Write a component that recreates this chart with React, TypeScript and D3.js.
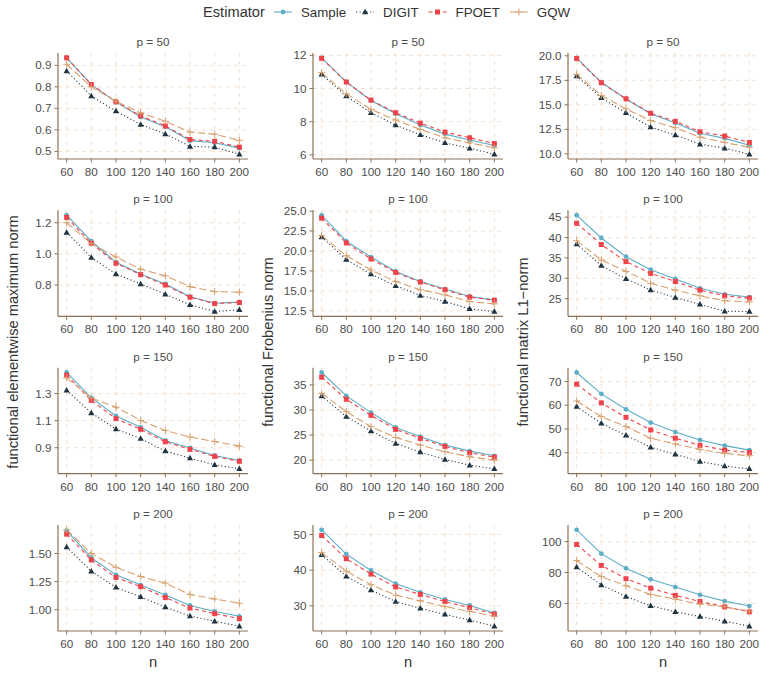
import React from "react";
import * as d3 from "d3";

const width = 765;
const height = 677;

const nValues = [60, 80, 100, 120, 140, 160, 180, 200];
const pValues = [50, 100, 150, 200];
const estimators = ["Sample", "DIGIT", "FPOET", "GQW"];
const metricTitles = [
  "functional elementwise maximum norm",
  "functional Frobenius norm",
  "functional matrix L1\u2212norm",
];

// elementwise maximum norm, one row per p
const maxSample = [
  [0.935, 0.81, 0.73, 0.66, 0.615, 0.55, 0.54, 0.515],
  [1.249, 1.082, 0.946, 0.871, 0.807, 0.725, 0.683, 0.69],
  [1.456, 1.268, 1.135, 1.051, 0.954, 0.898, 0.843, 0.806],
  [1.702, 1.462, 1.31, 1.219, 1.132, 1.038, 0.985, 0.942],
];
const maxDigit = [
  [0.874, 0.757, 0.687, 0.625, 0.581, 0.523, 0.52, 0.487],
  [1.138, 0.976, 0.871, 0.807, 0.741, 0.673, 0.63, 0.641],
  [1.325, 1.157, 1.038, 0.967, 0.875, 0.823, 0.774, 0.744],
  [1.556, 1.342, 1.199, 1.114, 1.023, 0.944, 0.898, 0.854],
];
const maxFpoet = [
  [0.935, 0.811, 0.73, 0.665, 0.618, 0.555, 0.547, 0.52],
  [1.234, 1.069, 0.94, 0.867, 0.8, 0.722, 0.681, 0.688],
  [1.436, 1.25, 1.115, 1.036, 0.944, 0.888, 0.836, 0.8],
  [1.672, 1.442, 1.287, 1.205, 1.108, 1.015, 0.965, 0.921],
];
const maxGqw = [
  [0.905, 0.8, 0.733, 0.679, 0.64, 0.59, 0.58, 0.551],
  [1.2, 1.066, 0.98, 0.902, 0.859, 0.79, 0.758, 0.754],
  [1.416, 1.268, 1.2, 1.102, 1.027, 0.979, 0.946, 0.912],
  [1.71, 1.5, 1.377, 1.295, 1.237, 1.135, 1.096, 1.058],
];

// Frobenius norm
const frobSample = [
  [11.85, 10.4, 9.28, 8.48, 7.8, 7.25, 6.9, 6.56],
  [24.5, 21.23, 19.25, 17.45, 16.19, 15.23, 14.3, 13.88],
  [37.47, 32.8, 29.47, 26.53, 24.67, 23.0, 21.8, 20.87],
  [51.3, 44.5, 39.9, 36.2, 33.8, 31.8, 30.1, 28.0],
];
const frobDigit = [
  [10.85, 9.54, 8.54, 7.79, 7.21, 6.73, 6.4, 6.04],
  [21.77, 18.92, 17.12, 15.65, 14.43, 13.67, 12.75, 12.42],
  [32.8, 28.67, 25.8, 23.33, 21.6, 20.13, 19.0, 18.27],
  [44.3, 38.3, 34.4, 31.2, 29.3, 27.6, 26.0, 24.3],
];
const frobFpoet = [
  [11.82, 10.39, 9.3, 8.54, 7.91, 7.37, 7.03, 6.68],
  [24.12, 21.02, 19.0, 17.32, 16.11, 15.14, 14.22, 13.84],
  [36.53, 32.13, 28.93, 26.13, 24.33, 22.73, 21.47, 20.6],
  [49.7, 43.2, 38.9, 35.3, 33.2, 31.2, 29.5, 27.7],
];
const frobGqw = [
  [10.95, 9.68, 8.74, 8.1, 7.53, 7.03, 6.72, 6.42],
  [21.94, 19.42, 17.62, 16.19, 15.14, 14.51, 13.67, 13.38],
  [33.33, 29.67, 26.67, 24.53, 23.0, 21.67, 20.67, 20.0],
  [44.9, 39.7, 35.9, 33.0, 31.4, 29.8, 28.4, 27.1],
];

// matrix L1-norm
const l1Sample = [
  [19.8, 17.3, 15.6, 14.1, 13.15, 12.1, 11.58, 10.89],
  [45.5, 39.9, 35.3, 32.1, 29.85, 27.55, 26.07, 25.4],
  [73.8, 64.8, 58.3, 52.7, 48.7, 45.35, 43.0, 41.1],
  [107.6, 92.2, 82.7, 75.6, 70.6, 65.6, 61.5, 58.3],
];
const l1Digit = [
  [17.95, 15.72, 14.18, 12.74, 11.92, 10.99, 10.58, 9.97],
  [38.4, 33.1, 29.9, 27.1, 25.3, 23.6, 21.9, 21.85],
  [59.4, 52.4, 47.3, 42.3, 39.3, 36.3, 34.4, 33.2],
  [83.6, 71.9, 64.5, 58.5, 54.6, 51.5, 48.5, 45.3],
];
const l1Fpoet = [
  [19.73, 17.26, 15.62, 14.14, 13.32, 12.26, 11.82, 11.16],
  [43.5, 38.3, 34.1, 31.2, 29.2, 27.1, 25.7, 25.15],
  [68.9, 61.0, 54.9, 49.6, 46.1, 43.1, 41.1, 40.1],
  [98.1, 84.6, 76.0, 69.9, 65.2, 61.3, 57.8, 54.6],
];
const l1Gqw = [
  [18.12, 15.96, 14.59, 13.39, 12.67, 11.71, 11.16, 10.68],
  [39.2, 34.5, 31.7, 28.8, 27.1, 25.7, 24.5, 24.2],
  [61.8, 55.2, 51.0, 46.1, 43.7, 41.4, 39.7, 38.7],
  [87.7, 77.3, 71.5, 65.8, 62.8, 59.6, 57.8, 55.0],
];

const maxTicks = [
  ["0.5", "0.6", "0.7", "0.8", "0.9"],
  ["0.8", "1.0", "1.2"],
  ["0.9", "1.1", "1.3"],
  ["1.00", "1.25", "1.50"],
];
const frobTicks = [
  ["6", "8", "10", "12"],
  ["12.5", "15.0", "17.5", "20.0", "22.5", "25.0"],
  ["20", "25", "30", "35"],
  ["30", "40", "50"],
];
const l1Ticks = [
  ["10.0", "12.5", "15.0", "17.5", "20.0"],
  ["25", "30", "35", "40", "45"],
  ["40", "50", "60", "70"],
  ["60", "80", "100"],
];

const metricSeries = [
  [maxSample, maxDigit, maxFpoet, maxGqw],
  [frobSample, frobDigit, frobFpoet, frobGqw],
  [l1Sample, l1Digit, l1Fpoet, l1Gqw],
];
const metricTicks = [maxTicks, frobTicks, l1Ticks];

const colors = ["#5DAEC6", "#1E3440", "#EE434A", "#D6A06E"];
const dashes = ["none", "1.1,2.4", "4,3.2", "7.5,3.2"];

const font = "'Liberation Sans', Arial, Helvetica, sans-serif";
const axisColor = "#8C7257";
const gridColor = "#F4E0CF";
const textColor = "#4D4D4D";

const colX = [58, 313, 568];
const rowY = [53, 210.33, 367.67, 525];
const panelW = 190;
const panelH = 106;

const Marker = ({ kind, x, y, color }: { kind: number; x: number; y: number; color: string }) => {
  if (kind === 0) return <circle cx={x} cy={y} r={2.4} fill={color} />;
  if (kind === 1)
    return <path d={`M${x},${y - 3.3}L${x + 3.1},${y + 2.2}L${x - 3.1},${y + 2.2}Z`} fill={color} />;
  if (kind === 2) return <rect x={x - 2.5} y={y - 2.5} width={5} height={5} fill={color} />;
  return (
    <path
      d={`M${x - 3.6},${y}H${x + 3.6}M${x},${y - 3.6}V${y + 3.6}`}
      stroke={color}
      strokeWidth={1}
      fill="none"
    />
  );
};

const Panel = ({ m, r }: { m: number; r: number }) => {
  const series = metricSeries[m].map((s) => s[r]);
  const ticks = metricTicks[m][r];
  const [nx0, nx1] = d3.extent(nValues) as [number, number];
  const xpad = (nx1 - nx0) * 0.05;
  const x = d3.scaleLinear().domain([nx0 - xpad, nx1 + xpad]).range([0, panelW]);
  const all = series.flat();
  const [y0, y1] = d3.extent(all) as [number, number];
  const ypad = (y1 - y0) * 0.05;
  const y = d3.scaleLinear().domain([y0 - ypad, y1 + ypad]).range([panelH, 0]);
  const line = d3
    .line<number>()
    .x((_, i) => x(nValues[i]))
    .y((d) => y(d));

  return (
    <g transform={`translate(${colX[m]},${rowY[r]})`}>
      {ticks.map((t) => (
        <line
          key={"gy" + t}
          x1={0}
          x2={panelW}
          y1={y(+t)}
          y2={y(+t)}
          stroke={gridColor}
          strokeWidth={1}
          strokeDasharray="4,4"
        />
      ))}
      {nValues.map((n) => (
        <line
          key={"gx" + n}
          x1={x(n)}
          x2={x(n)}
          y1={0}
          y2={panelH}
          stroke={gridColor}
          strokeWidth={1}
          strokeDasharray="4,4"
        />
      ))}
      <text
        x={panelW / 2}
        y={-7}
        textAnchor="middle"
        fontFamily={font}
        fontSize={11.7}
        fill={textColor}
      >
        {`p = ${pValues[r]}`}
      </text>
      {series.map((s, i) => (
        <path
          key={"l" + i}
          d={line(s) || ""}
          fill="none"
          stroke={colors[i]}
          strokeWidth={1.1}
          strokeDasharray={dashes[i]}
        />
      ))}
      {series.map((s, i) =>
        s.map((v, j) => <Marker key={`p${i}-${j}`} kind={i} x={x(nValues[j])} y={y(v)} color={colors[i]} />)
      )}
      <line x1={0} x2={0} y1={0} y2={panelH} stroke={axisColor} strokeWidth={1.2} />
      <line x1={0} x2={panelW} y1={panelH} y2={panelH} stroke={axisColor} strokeWidth={1.2} />
      {ticks.map((t) => (
        <g key={"ty" + t}>
          <line x1={-3.5} x2={0} y1={y(+t)} y2={y(+t)} stroke={axisColor} strokeWidth={1} />
          <text
            x={-6.5}
            y={y(+t)}
            dy="0.35em"
            textAnchor="end"
            fontFamily={font}
            fontSize={11.7}
            fill={textColor}
          >
            {t}
          </text>
        </g>
      ))}
      {nValues.map((n) => (
        <g key={"tx" + n}>
          <line x1={x(n)} x2={x(n)} y1={panelH} y2={panelH + 3.5} stroke={axisColor} strokeWidth={1} />
          <text
            x={x(n)}
            y={panelH + 17}
            textAnchor="middle"
            fontFamily={font}
            fontSize={11.7}
            fill={textColor}
          >
            {n}
          </text>
        </g>
      ))}
    </g>
  );
};

const Legend = () => {
  const ctx = document.createElement("canvas").getContext("2d");
  const labelSize = 13.3;
  let widths = estimators.map((e) => e.length * 7);
  if (ctx) {
    ctx.font = `${labelSize}px ${font}`;
    widths = estimators.map((e) => ctx.measureText(e).width);
  }
  let cx = 274;
  const items = estimators.map((e, i) => {
    const kx = cx;
    cx = kx + 27 + widths[i] + 10;
    return { e, i, kx };
  });
  const cy = 12;
  return (
    <g>
      <text x={203} y={cy} dy="0.35em" fontFamily={font} fontSize={14.67} fill="#333333">
        Estimator
      </text>
      {items.map(({ e, i, kx }) => (
        <g key={e}>
          <line
            x1={kx}
            x2={kx + 18}
            y1={cy}
            y2={cy}
            stroke={colors[i]}
            strokeWidth={1.1}
            strokeDasharray={dashes[i]}
          />
          <Marker kind={i} x={kx + 9} y={cy} color={colors[i]} />
          <text x={kx + 27} y={cy} dy="0.35em" fontFamily={font} fontSize={labelSize} fill="#333333">
            {e}
          </text>
        </g>
      ))}
    </g>
  );
};

export default function App() {
  const midY = (rowY[0] + rowY[3] + panelH) / 2;
  return (
    <svg
      width={width}
      height={height}
      style={{ display: "block", position: "absolute", left: 0, top: 0, background: "#FFFFFF" }}
    >
      <Legend />
      {metricTitles.map((t, m) => (
        <text
          key={t}
          transform={`translate(${colX[m] - 45},${midY}) rotate(-90)`}
          textAnchor="middle"
          dy="0.35em"
          fontFamily={font}
          fontSize={14.67}
          fill="#333333"
        >
          {t}
        </text>
      ))}
      {metricTitles.map((t, m) =>
        pValues.map((p, r) => <Panel key={`${m}-${p}`} m={m} r={r} />)
      )}
      {colX.map((cx) => (
        <text
          key={"n" + cx}
          x={cx + panelW / 2}
          y={662}
          dy="0.35em"
          textAnchor="middle"
          fontFamily={font}
          fontSize={14.67}
          fill="#333333"
        >
          n
        </text>
      ))}
    </svg>
  );
}
